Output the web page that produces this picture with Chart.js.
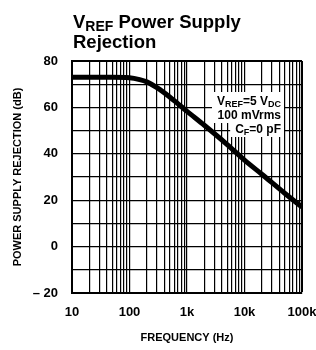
<!DOCTYPE html>
<html>
<head>
<meta charset="utf-8">
<script src="https://cdn.jsdelivr.net/npm/chart.js@4.4.1/dist/chart.umd.min.js"></script>
<style>
  html, body { margin: 0; padding: 0; background: #fff; }
  #wrap { position: relative; width: 316px; height: 350px; }
</style>
</head>
<body>
<div id="wrap"><canvas id="psrr"></canvas></div>
<script>
// ── datos ──
const freqHz = [10, 20, 50, 100, 150, 200, 300, 500, 700, 1000, 2000, 5000, 10000, 20000, 50000, 100000];
const psrrDb = [73, 73, 73, 72.8, 72, 71, 68.5, 64.5, 61.5, 58.3, 52.3, 44, 37.3, 31.2, 23, 17];

const decadeValues = [10, 100, 1000, 10000, 100000];
const decadeLabels = ['10', '100', '1k', '10k', '100k'];
const yLabelValues = [80, 60, 40, 20, 0, -20];
const yLabels = ['80', '60', '40', '20', '0', '\u2013 20'];

const FONT = "'Liberation Sans', Arial, Helvetica, sans-serif";

// ── helpers ──
function logTicks() {
    const out = [];
    decadeValues.slice(0, -1).forEach(d => { for (let m = 1; m < 10; m++) out.push({ value: d * m }); });
    out.push({ value: decadeValues[decadeValues.length - 1] });
    return out;
}

function richWidth(ctx, parts, size) {
    const subSize = Math.round(size * 0.75);
    let w = 0;
    parts.forEach(([t, sub]) => {
        ctx.font = 'bold ' + (sub ? subSize : size) + 'px ' + FONT;
        w += ctx.measureText(t).width;
    });
    return w;
}

// texto con subíndices: [[texto, esSub], ...]
function drawRich(ctx, parts, x, y, size, align) {
    const subSize = Math.round(size * 0.75);
    let cx = align === 'right' ? x - richWidth(ctx, parts, size) : x;
    parts.forEach(([t, sub]) => {
        ctx.font = 'bold ' + (sub ? subSize : size) + 'px ' + FONT;
        ctx.fillText(t, cx, y + (sub ? size * 0.17 : 0));
        cx += ctx.measureText(t).width;
    });
}

const noteLines = [
    [['V', false], ['REF', true], ['=5 V', false], ['DC', true]],
    [['100 mVrms', false]],
    [['C', false], ['F', true], ['=0 pF', false]]
];

// ── título y nota ──
const textPlugin = {
    id: 'texts',
    afterDatasetsDraw(chart) {
        const { ctx } = chart;
        ctx.save();
        ctx.fillStyle = '#000';
        ctx.textBaseline = 'alphabetic';
        ctx.textAlign = 'left';
        drawRich(ctx, [['V', false], ['REF', true], [' Power Supply', false]], 73, 28, 18.5, 'left');
        drawRich(ctx, [['Rejection', false]], 73, 48, 18.5, 'left');

        // fondo blanco detrás de cada línea de la nota
        const right = 281;
        noteLines.forEach((ln, i) => {
            const y = 105 + i * 14;
            const w = richWidth(ctx, ln, 12);
            ctx.fillStyle = '#fff';
            ctx.fillRect(right - w - 5, y - 13, w + 8, 17);
        });
        ctx.fillStyle = '#000';
        noteLines.forEach((ln, i) => drawRich(ctx, ln, right, 105 + i * 14, 12, 'right'));
        ctx.restore();
    }
};

const ctx = document.getElementById('psrr').getContext('2d');
new Chart(ctx, {
    type: 'line',
    data: {
        datasets: [{
            data: freqHz.map((f, i) => ({ x: f, y: psrrDb[i] })),
            borderColor: '#000',
            borderWidth: 5,
            pointRadius: 0,
            cubicInterpolationMode: 'monotone',
            fill: false
        }]
    },
    options: {
        responsive: true,
        maintainAspectRatio: false,
        animation: false,
        layout: { padding: { left: 0, right: 14, top: 61, bottom: 0 } },
        plugins: { legend: { display: false }, tooltip: { enabled: false } },
        scales: {
            x: {
                type: 'logarithmic',
                min: 10,
                max: 100000,
                afterBuildTicks: s => { s.ticks = logTicks(); },
                afterFit: s => { s.height = 57; s.paddingLeft = 0; s.paddingRight = 0; },
                border: { display: true, color: '#000', width: 2 },
                grid: {
                    color: '#000',
                    drawTicks: false,
                    lineWidth: c => (c.tick && c.tick.value === 100000 ? 2 : 1.2)
                },
                ticks: {
                    autoSkip: false,
                    maxRotation: 0,
                    padding: 12,
                    color: '#000',
                    font: { family: FONT, size: 13, weight: 'bold' },
                    callback: v => {
                        const i = decadeValues.indexOf(v);
                        return i >= 0 ? decadeLabels[i] : '';
                    }
                },
                title: {
                    display: true,
                    text: 'FREQUENCY (Hz)',
                    color: '#000',
                    font: { family: FONT, size: 11, weight: 'bold' },
                    padding: { top: 0, bottom: 5 }
                }
            },
            y: {
                min: -20,
                max: 80,
                afterFit: s => { s.width = 72; s.paddingTop = 0; s.paddingBottom = 0; },
                border: { display: true, color: '#000', width: 2 },
                grid: {
                    color: '#000',
                    drawTicks: false,
                    lineWidth: c => (c.tick && c.tick.value === 80 ? 2 : 1.2)
                },
                ticks: {
                    stepSize: 10,
                    autoSkip: false,
                    padding: 14,
                    color: '#000',
                    font: { family: FONT, size: 13, weight: 'bold' },
                    callback: v => {
                        const i = yLabelValues.indexOf(v);
                        return i >= 0 ? yLabels[i] : '';
                    }
                },
                title: {
                    display: true,
                    text: 'POWER SUPPLY REJECTION (dB)',
                    color: '#000',
                    font: { family: FONT, size: 11, weight: 'bold' },
                    padding: { top: 11, bottom: 0 }
                }
            }
        }
    },
    plugins: [textPlugin]
});
</script>
</body>
</html>
